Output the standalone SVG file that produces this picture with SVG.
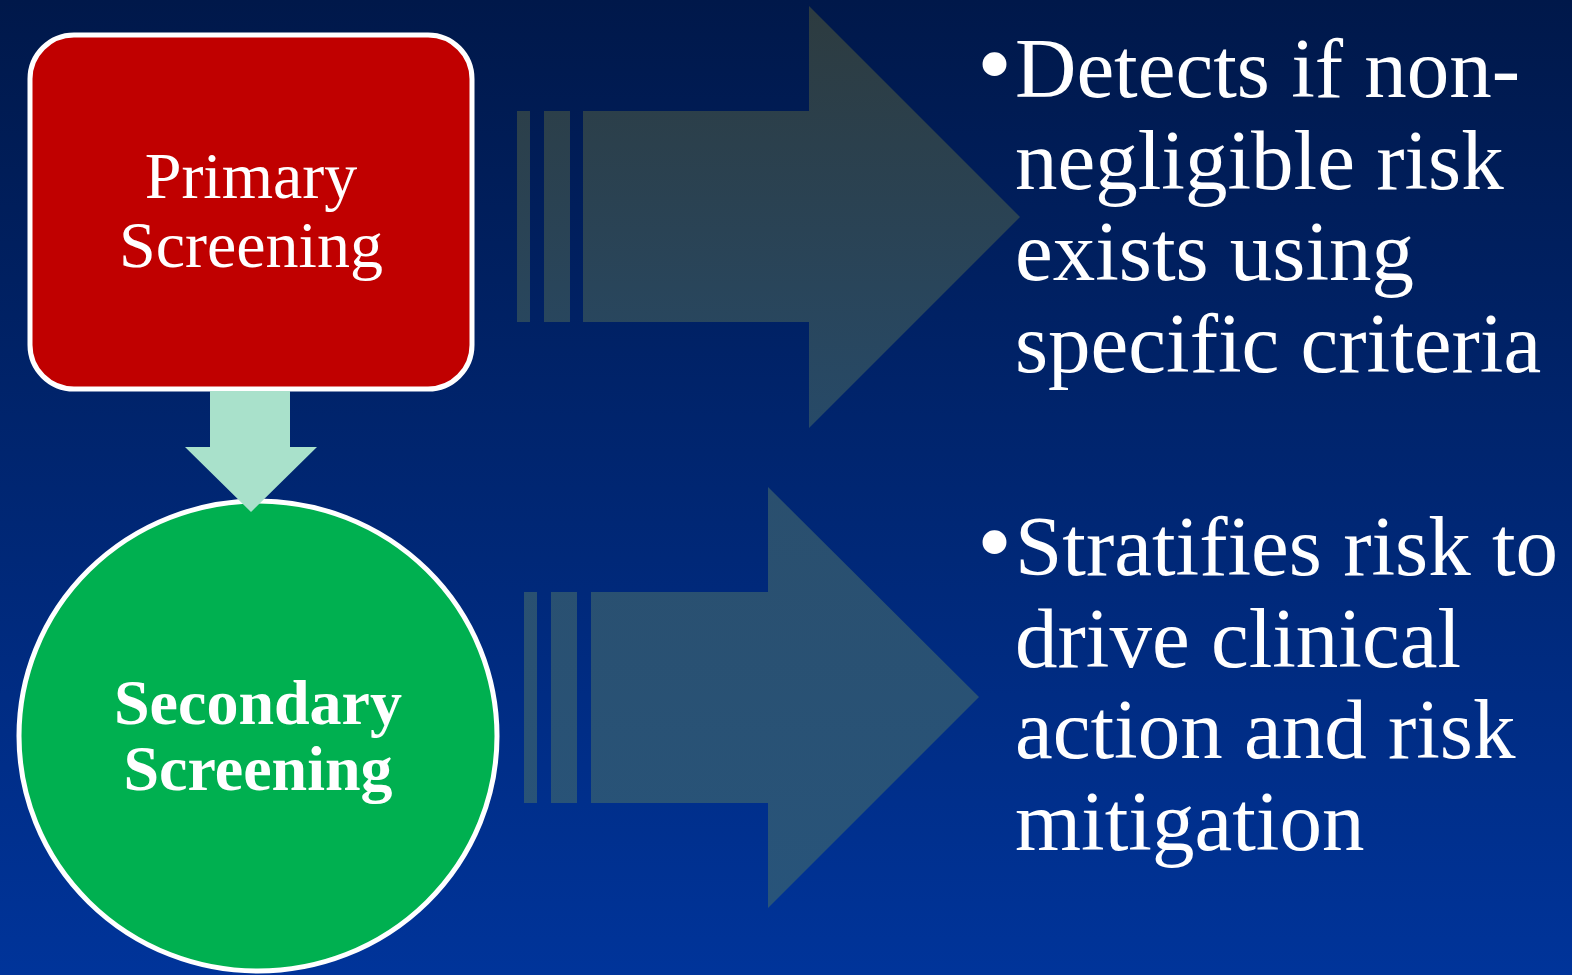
<svg xmlns="http://www.w3.org/2000/svg" width="1572" height="975" viewBox="0 0 1572 975">
  <defs>
    <linearGradient id="bg" x1="0" y1="0" x2="0" y2="975" gradientUnits="userSpaceOnUse">
      <stop offset="0" stop-color="#00184a"/>
      <stop offset="1" stop-color="#00349a"/>
    </linearGradient>
    <linearGradient id="bigArrow" x1="0" y1="0" x2="0" y2="975" gradientUnits="userSpaceOnUse">
      <stop offset="0" stop-color="#2d3b3f"/>
      <stop offset="0.44" stop-color="#274a68"/>
      <stop offset="0.5" stop-color="#2a4f6e"/>
      <stop offset="0.93" stop-color="#28547a"/>
    </linearGradient>
  </defs>
  <style>
    .serif { font-family: "Liberation Serif", "Times New Roman", serif; fill: #ffffff; }
    .node-label { font-size: 66px; text-anchor: middle; }
    .node-label-bold { font-size: 64px; font-weight: bold; text-anchor: middle; }
    .bullet-text { font-size: 85px; }
    .bullet { font-size: 100px; }
    .big-arrow { fill: url(#bigArrow); }
    .flow-arrow { fill: #a9e1cb; }
    .outline { stroke: #ffffff; stroke-width: 5; }
  </style>

  <!-- background -->
  <rect x="0" y="0" width="1572" height="975" fill="url(#bg)"/>

  <!-- connectors -->
  <g id="connectors">
    <!-- striped block arrow toward first description -->
    <g id="arrow-primary">
      <rect class="big-arrow" x="517" y="111" width="13" height="211"/>
      <rect class="big-arrow" x="544" y="111" width="26" height="211"/>
      <polygon class="big-arrow" points="583,111 809,111 809,6 1020,217 809,428 809,322 583,322"/>
    </g>
    <!-- striped block arrow toward second description -->
    <g id="arrow-secondary">
      <rect class="big-arrow" x="524" y="592" width="13" height="211"/>
      <rect class="big-arrow" x="551" y="592" width="26" height="211"/>
      <polygon class="big-arrow" points="591,592 768,592 768,487 979,697 768,908 768,803 591,803"/>
    </g>
  </g>

  <!-- primary screening -->
  <g id="node-primary">
    <rect x="30" y="35" width="442" height="354" rx="44" ry="44" fill="#c00000" class="outline"/>
    <text class="serif node-label" x="251" y="198">Primary</text>
    <text class="serif node-label" x="251" y="267">Screening</text>
  </g>

  <!-- secondary screening -->
  <g id="node-secondary">
    <ellipse cx="258" cy="736" rx="239" ry="235" fill="#00b050" class="outline"/>
    <text class="serif node-label-bold" x="258" y="724">Secondary</text>
    <text class="serif node-label-bold" x="258" y="790">Screening</text>
  </g>

  <!-- flow from primary to secondary -->
  <g id="flow-connector">
    <polygon class="flow-arrow" points="210,391 290,391 290,447 317,447 251,512 185,447 210,447"/>
  </g>

  <!-- description of primary screening -->
  <g id="note-primary">
    <text class="serif bullet" x="977" y="97">•</text>
    <text class="serif bullet-text" x="1015" y="97">Detects if non-</text>
    <text class="serif bullet-text" x="1015" y="188.5">negligible risk</text>
    <text class="serif bullet-text" x="1015" y="280">exists using</text>
    <text class="serif bullet-text" x="1015" y="371.5">specific criteria</text>
  </g>

  <!-- description of secondary screening -->
  <g id="note-secondary">
    <text class="serif bullet" x="977" y="575">•</text>
    <text class="serif bullet-text" x="1015" y="575">Stratifies risk to</text>
    <text class="serif bullet-text" x="1015" y="666.5">drive clinical</text>
    <text class="serif bullet-text" x="1015" y="758">action and risk</text>
    <text class="serif bullet-text" x="1015" y="849.5">mitigation</text>
  </g>
</svg>
